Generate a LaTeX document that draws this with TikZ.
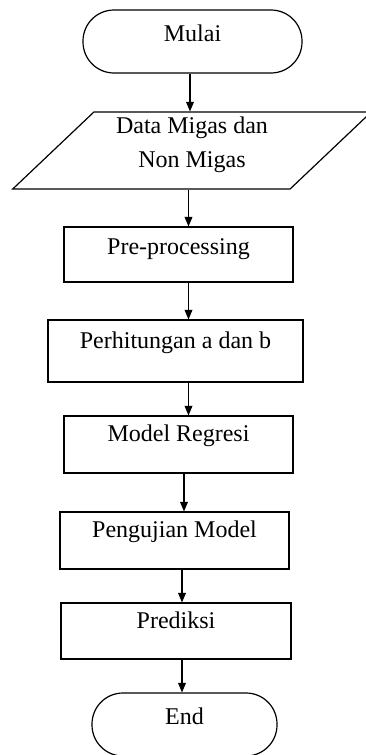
\documentclass[tikz,border=0pt]{standalone}
\usepackage{fontspec}
\setmainfont{Liberation Serif}
\usetikzlibrary{arrows}
\usetikzlibrary{shapes.geometric, positioning}

\tikzset{
  every node/.style={font=\fontsize{24}{34}\selectfont, inner sep=2pt},
  terminal/.style={draw, rectangle, rounded corners=31pt, minimum height=63pt, text height=16pt, text depth=16pt},
  process/.style={draw, rectangle, minimum height=57pt, text height=16pt, text depth=22pt},
  io/.style={draw, trapezium, trapezium left angle=48, trapezium right angle=132, trapezium stretches=true, minimum height=77pt, align=center},
  arrow/.style={-triangle 45}
}

\begin{document}
\begin{tikzpicture}[x=1pt, y=-1pt, line width=1.2pt]
      \useasboundingbox (0, 0) rectangle (366, 755);
      \clip (0, 0) rectangle (366, 755);

      \node[terminal, minimum width=219pt] (mulai) at (192.5, 41.5) {Mulai};
      \node[io, minimum width=360pt, text depth=17pt] (data) at (192, 150.5) {Data Migas dan\\Non Migas};
      \node[process, minimum width=229pt, minimum height=55pt, text depth=16pt] (pre) at (178.5, 254.5) {Pre-processing};
      \node[process, minimum width=255pt, minimum height=62pt] (hitung) at (175.5, 351) {Perhitungan a dan b};
      \node[process, minimum width=229pt] (model) at (178.5, 444.5) {Model Regresi};
      \node[process, minimum width=229pt] (uji) at (174.5, 540.5) {Pengujian Model};
      \node[process, minimum width=230pt, minimum height=56pt] (prediksi) at (176, 631) {Prediksi};
      \node[terminal, minimum width=185pt] (end) at (184.5, 724.5) {End};

      \draw[arrow] (mulai.south -| 190,0) -- (data.north -| 190,0);
      \draw[arrow] (data.south -| 188.5,0) -- (pre.north -| 188.5,0);
      \draw[arrow] (pre.south -| 188.5,0) -- (hitung.north -| 188.5,0);
      \draw[arrow] (hitung.south -| 188.5,0) -- (model.north -| 188.5,0);
      \draw[arrow] (model.south -| 184,0) -- (uji.north -| 184,0);
      \draw[arrow] (uji.south -| 182,0) -- (prediksi.north -| 182,0);
      \draw[arrow] (prediksi.south -| 182,0) -- (end.north -| 182,0);

    \end{tikzpicture}
\end{document}
